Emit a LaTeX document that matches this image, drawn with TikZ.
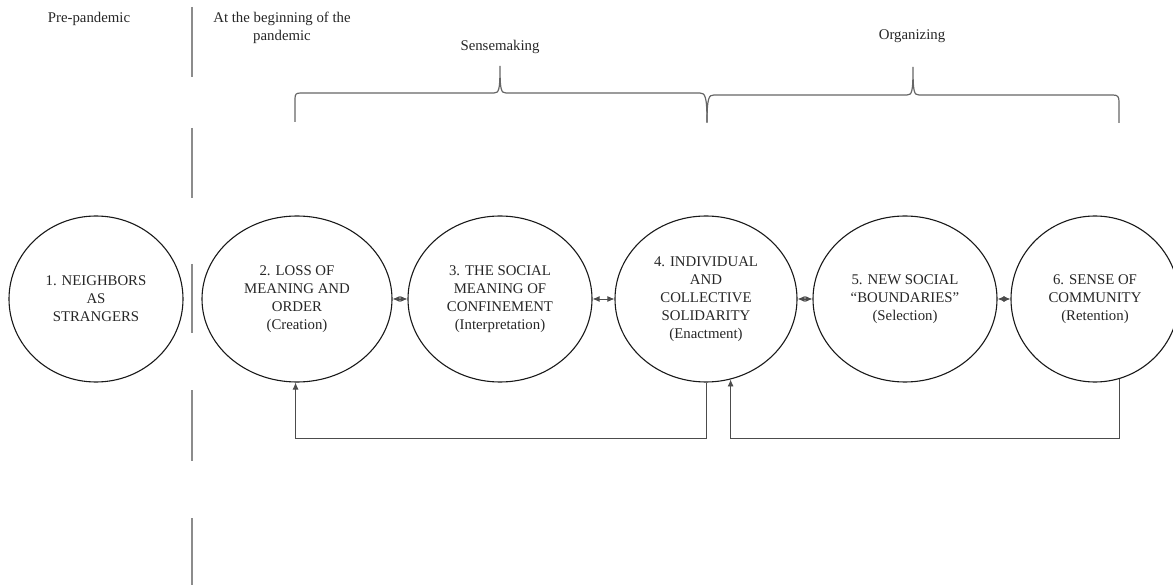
\documentclass[tikz,border=0pt]{standalone}
\usepackage{fontspec}
\setmainfont{Liberation Serif}
\usetikzlibrary{shapes.geometric,arrows.meta}
\begin{document}
\begin{tikzpicture}[x=1pt,y=-1pt,
  >={Latex[length=7pt,width=6pt]},
  txt/.style={text=black!85,font=\fontsize{14.8}{18}\selectfont,align=center,inner sep=0pt},
  stage/.style={ellipse,draw=black!90,line width=1.1pt,inner sep=0pt,txt},
  divider/.style={draw=black!45,line width=1.2pt},
  bracket/.style={draw=black!60,line width=1.2pt},
  link/.style={draw=black!70,line width=0.9pt}
]
\useasboundingbox (0,0) rectangle (1173,585);
% dividers
\foreach \a/\b in {7/77,128/198,264/333,390/461,518/585}
  \draw[divider] (192,\a) -- (192,\b);
% top labels
\node[txt] (pre) at (89,19) {Pre-pandemic};
\node[txt] (beg) at (282,28) {At the beginning of the\\pandemic};
\node[txt] (sense) at (500,47) {Sensemaking};
\node[txt] (org) at (912,36) {Organizing};
% braces
\draw[bracket] (295,122) -- (295,99) .. controls (295,94) and (296,93) .. (301,93)
  -- (494,93) .. controls (499,93) and (500,90) .. (500,66)
  .. controls (500,90) and (501,93) .. (506,93)
  -- (700,93) .. controls (705,93) and (707,96) .. (707,122);
\draw[bracket] (707,123) .. controls (707,97) and (709,95) .. (714,95)
  -- (907,95) .. controls (912,95) and (913,92) .. (913,67)
  .. controls (913,92) and (914,95) .. (919,95)
  -- (1113,95) .. controls (1118,95) and (1119,97) .. (1119,102) -- (1119,123);
% stages
\node[stage,minimum width=174pt,minimum height=166pt] (c1) at (96,299) {1. NEIGHBORS\\AS\\STRANGERS};
\node[stage,minimum width=190pt,minimum height=166pt] (c2) at (297,299) {2. LOSS OF\\MEANING AND\\ORDER\\(Creation)};
\node[stage,minimum width=184pt,minimum height=166pt] (c3) at (500,299) {3. THE SOCIAL\\MEANING OF\\CONFINEMENT\\(Interpretation)};
\node[stage,minimum width=182pt,minimum height=166pt] (c4) at (706,299) {4. INDIVIDUAL\\AND\\COLLECTIVE\\SOLIDARITY\\(Enactment)};
\node[stage,minimum width=184pt,minimum height=166pt] (c5) at (905,299) {5. NEW SOCIAL\\``BOUNDARIES''\\(Selection)};
\node[stage,minimum width=168pt,minimum height=166pt] (c6) at (1095,299) {6. SENSE OF\\COMMUNITY\\(Retention)};
% double arrows
\draw[link,<->] (c2) -- (c3);
\draw[link,<->] (c3) -- (c4);
\draw[link,<->] (c4) -- (c5);
\draw[link,<->] (c5) -- (c6);
% feedback loops
\coordinate (base) at (0,438);
\draw[link,->] (c4.south) -- (c4.south |- base) -| (c2.-91);
\draw[link,->] (c6.-73) -- (c6.-73 |- base) -| (c4.-73);
\end{tikzpicture}
\end{document}
